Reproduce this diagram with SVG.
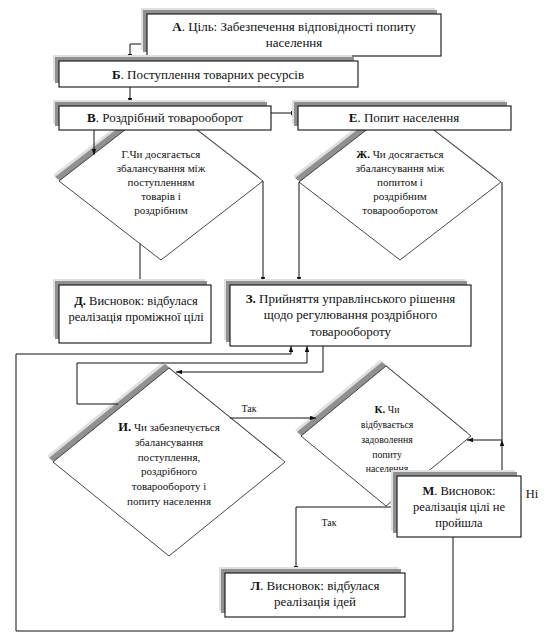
<svg xmlns="http://www.w3.org/2000/svg" width="552" height="635" viewBox="0 0 552 635">
<style>
text{font-family:"Liberation Serif","Times New Roman",serif;fill:#111;text-anchor:middle}
.t13{font-size:13px}
.t12{font-size:12.5px}
.t11{font-size:11px}
.t9{font-size:9.8px}
.t10{font-size:10px}
.box{fill:#fff;stroke:#111;stroke-width:1.1}
.sh1{fill:#e0e0e0}
.sh2{fill:#909090}
.dia{fill:#fff;stroke:#333;stroke-width:0.9}
.con{fill:none;stroke:#111;stroke-width:1}
.b{font-weight:bold}
</style>
<defs>
<marker id="ar" markerUnits="userSpaceOnUse" markerWidth="7" markerHeight="5" refX="6" refY="2.25" orient="auto">
<path d="M0,0 L6,2.25 L0,4.5 z" fill="#111"/>
</marker>
</defs>
<rect width="552" height="635" fill="#fff"/>

<!-- diamonds -->
<g id="G">
<polygon class="sh1" points="53,175 142.1,106 167.9,106 257,175 155,254"/>
<polygon class="sh2" points="55,177 144.1,108 169.9,108 259,177 157,256"/>
<polygon class="dia" points="59,181 148.1,112 173.9,112 263,181 161,260"/>
<text class="t11" x="161" y="158">Г.Чи досягається</text>
<text class="t11" x="161" y="172">збалансування між</text>
<text class="t11" x="161" y="186">поступленням</text>
<text class="t11" x="161" y="200">товарів і</text>
<text class="t11" x="161" y="214">роздрібним</text>
</g>
<g id="ZH">
<polygon class="sh1" points="293,176 383.6,106 404.4,106 495,176 394,254"/>
<polygon class="sh2" points="295,178 385.6,108 406.4,108 497,178 396,256"/>
<polygon class="dia" points="299,182 389.6,112 410.4,112 501,182 400,260"/>
<text class="t11" x="400" y="158"><tspan class="b">Ж.</tspan> Чи досягається</text>
<text class="t11" x="400" y="172">збалансування між</text>
<text class="t11" x="400" y="186">попитом і</text>
<text class="t11" x="400" y="200">роздрібним</text>
<text class="t11" x="400" y="214">товарооборотом</text>
</g>
<g id="I">
<polygon class="sh1" points="163,362 279,456 163,550 47,456"/>
<polygon class="sh2" points="165,364 281,458 165,552 49,458"/>
<polygon class="dia" points="169,368 285,462 169,556 53,462"/>
<text class="t11" x="169" y="431"><tspan class="b" font-size="12.5">И.</tspan> Чи забезпечується</text>
<text class="t11" x="169" y="446">збалансування</text>
<text class="t11" x="169" y="460.5">поступлення,</text>
<text class="t11" x="169" y="475">роздрібного</text>
<text class="t11" x="169" y="490">товарообороту і</text>
<text class="t11" x="169" y="504.5">попиту населення</text>
</g>
<g id="K">
<polygon class="sh1" points="380,360 465,430 380,500 295,430"/>
<polygon class="sh2" points="382,362 467,432 382,502 297,432"/>
<polygon class="dia" points="386,366 471,436 386,506 301,436"/>
<text class="t9" x="387" y="413"><tspan class="b" font-size="11">К.</tspan> Чи</text>
<text class="t9" x="387" y="428">відбувається</text>
<text class="t9" x="387" y="443">задоволення</text>
<text class="t9" x="387" y="457.5">попиту</text>
<text class="t9" x="387" y="472">населення</text>
</g>

<!-- connectors -->
<g id="connectors" class="con">
<polyline class="con" points="141,44 130,44 130,60" marker-end="url(#ar)"/>
<line x1="130" y1="87" x2="130" y2="104" marker-end="url(#ar)"/>
<line x1="271" y1="113" x2="297" y2="113" marker-end="url(#ar)"/>
<line x1="94" y1="130" x2="94" y2="155" marker-end="url(#ar)"/>
<line x1="140" y1="243.5" x2="140" y2="285"/>
<line x1="263" y1="181" x2="263" y2="283" marker-end="url(#ar)"/>
<line x1="299" y1="182" x2="299" y2="283" marker-end="url(#ar)"/>
<line x1="502" y1="182" x2="502" y2="440"/>
<line x1="502" y1="440" x2="467" y2="440" marker-end="url(#ar)"/>
<line x1="502" y1="476" x2="502" y2="440" marker-end="url(#ar)"/>
<polyline class="con" points="453,537 453,631 16,631 16,354 291,354 291,346" marker-end="url(#ar)"/>
<polyline class="con" points="118,404 77,404 77,363 307,363 307,346" marker-end="url(#ar)"/>
<polyline class="con" points="323,346 323,372 176,372" marker-end="url(#ar)"/>
<line x1="230" y1="418" x2="316" y2="418" marker-end="url(#ar)"/>
<polyline class="con" points="397,507 296,507 296,572" marker-end="url(#ar)"/>
</g>

<!-- boxes -->
<g id="A">
<rect class="sh1" x="141" y="8" width="294" height="42"/>
<rect class="sh2" x="143" y="10" width="294" height="42"/>
<rect class="box" x="147" y="14" width="294" height="42"/>
<text class="t13" x="294" y="31"><tspan class="b">А</tspan>. Ціль: Забезпечення відповідності попиту</text>
<text class="t13" x="294" y="47">населення</text>
</g>
<g id="B">
<rect class="sh1" x="53" y="55" width="299" height="26"/>
<rect class="sh2" x="55" y="57" width="299" height="26"/>
<rect class="box" x="59" y="61" width="299" height="26"/>
<text class="t13" x="208" y="79"><tspan class="b">Б</tspan>. Поступлення товарних ресурсів</text>
</g>
<g id="V">
<rect class="sh1" x="53" y="100" width="212" height="24"/>
<rect class="sh2" x="55" y="102" width="212" height="24"/>
<rect class="box" x="59" y="106" width="212" height="24"/>
<text class="t13" x="165" y="122"><tspan class="b">В</tspan>. Роздрібний товарооборот</text>
</g>
<g id="E">
<rect class="sh1" x="292" y="100" width="213" height="24"/>
<rect class="sh2" x="294" y="102" width="213" height="24"/>
<rect class="box" x="298" y="106" width="213" height="24"/>
<text class="t13" x="404" y="122"><tspan class="b">Е</tspan>. Попит населення</text>
</g>
<g id="D">
<rect class="sh1" x="53" y="279" width="152" height="58"/>
<rect class="sh2" x="55" y="281" width="152" height="58"/>
<rect class="box" x="59" y="285" width="152" height="58"/>
<text class="t12" x="136" y="304.5"><tspan class="b">Д.</tspan> Висновок: відбулася</text>
<text class="t12" x="136" y="320.5">реалізація проміжної цілі</text>
</g>
<g id="Z">
<rect class="sh1" x="224" y="279" width="241" height="61"/>
<rect class="sh2" x="226" y="281" width="241" height="61"/>
<rect class="box" x="230" y="285" width="241" height="61"/>
<text class="t13" x="350.5" y="303"><tspan class="b">З.</tspan> Прийняття управлінського рішення</text>
<text class="t13" x="350.5" y="319">щодо регулювання роздрібного</text>
<text class="t13" x="350.5" y="335.5">товарообороту</text>
</g>
<g id="M">
<rect class="sh1" x="391" y="470" width="124" height="61"/>
<rect class="sh2" x="393" y="472" width="124" height="61"/>
<rect class="box" x="397" y="476" width="124" height="61"/>
<text class="t12" x="459" y="495"><tspan class="b">М</tspan>. Висновок:</text>
<text class="t12" x="459" y="511">реалізація цілі не</text>
<text class="t12" x="459" y="527">пройшла</text>
</g>
<g id="L">
<rect class="sh1" x="219" y="567" width="180" height="44"/>
<rect class="sh2" x="221" y="569" width="180" height="44"/>
<rect class="box" x="225" y="573" width="180" height="44"/>
<text class="t13" x="315" y="590"><tspan class="b">Л</tspan>. Висновок: відбулася</text>
<text class="t13" x="315" y="606">реалізація ідей</text>
</g>

<!-- labels -->
<g id="labels">
<text class="t10" x="249" y="412">Так</text>
<text class="t10" x="329" y="526">Так</text>
<text class="t12" x="532" y="498">Ні</text>
</g>
</svg>
